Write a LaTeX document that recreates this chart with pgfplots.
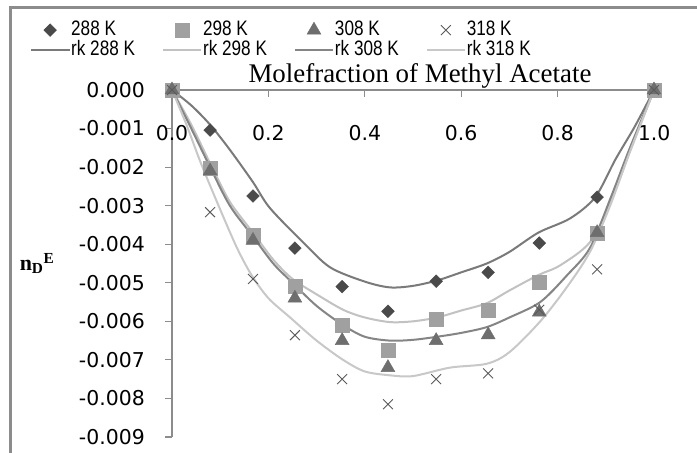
\documentclass[border=0pt]{standalone}
\usepackage{fontspec}
\setmainfont{Liberation Sans}
\newfontfamily\legfont[FakeStretch=0.82]{Liberation Sans}
\newfontfamily\tickfont{DejaVu Sans}
\newfontfamily\seriffont{Liberation Serif}
\usepackage{pgfplots}
\pgfplotsset{compat=1.18}
\definecolor{cA}{HTML}{4A4A4A}
\definecolor{cB}{HTML}{A0A0A0}
\definecolor{cC}{HTML}{6E6E6E}
\definecolor{cD}{HTML}{5A5A5A}
\definecolor{lA}{HTML}{7A7A7A}
\definecolor{lB}{HTML}{C2C2C2}
\definecolor{lC}{HTML}{858585}
\definecolor{lD}{HTML}{C8C8C8}
\definecolor{axisgray}{HTML}{8C8C8C}
\begin{document}
\begin{tikzpicture}[x=1bp,y=1bp]
\useasboundingbox (0,0) rectangle (697,453);
\fill[white] (0,0) rectangle (697,453);
\draw[color=axisgray, line width=3bp] (10,0) -- (10,445);
\draw[color=axisgray, line width=3bp] (8.5,445) -- (697,445);
\begin{axis}[
  at={(172bp,16bp)}, anchor=south west,
  scale only axis, width=482bp, height=347bp,
  xmin=0, xmax=1, ymin=-0.009, ymax=0,
  clip=false,
  scaled y ticks=false, scaled x ticks=false,
  axis x line*=top, axis y line*=left,
  axis line style={draw=axisgray, line width=1.5bp, -},
  xtick={0,0.2,0.4,0.6,0.8,1},
  ytick={-0.009,-0.008,-0.007,-0.006,-0.005,-0.004,-0.003,-0.002,-0.001,0},
  tick style={draw=axisgray, line width=1.2bp},
  major tick length=7bp,
  xtick align=inside, ytick align=outside,
  xticklabel={\pgfmathprintnumber[fixed,fixed zerofill,precision=1,assume math mode=true]{\tick}},
  yticklabel={\pgfmathprintnumber[fixed,fixed zerofill,precision=3,assume math mode=true]{\tick}},
  xticklabel style={font=\tickfont\fontsize{20.5}{24}\selectfont, anchor=center, yshift=-43bp},
  yticklabel style={font=\tickfont\fontsize{20.5}{24}\selectfont, anchor=east, inner sep=0pt, xshift=-20bp},
  xlabel={Molefraction of Methyl Acetate},
  xlabel style={font=\seriffont\fontsize{27}{30}\selectfont, at={(axis description cs:0.5145,1)}, anchor=base, yshift=7bp},
  ylabel={\seriffont\bfseries\fontsize{22}{24}\selectfont n\textsubscript{D}\textsuperscript{E}},
  ylabel style={rotate=-90, at={(axis description cs:-0.28,0.50)}, anchor=center},
  legend columns=4,
  legend cell align=left,
  legend image code/.code={\draw[mark repeat=2,mark phase=2,#1] plot coordinates {(0bp,0bp) (19bp,0bp) (38bp,0bp)};},
  legend style={at={(-0.2946,1.199)}, anchor=north west,
    draw=none, fill=none, inner sep=0pt, row sep=2bp,
    font=\legfont\fontsize{21}{23}\selectfont,
    nodes={inner sep=1bp, text height=13bp, text depth=3bp, font=\legfont\fontsize{21}{23}\selectfont},
    /tikz/every even column/.append style={column sep=26bp}},
]
\addplot[only marks, mark=square*, mark size=4.5bp, mark options={rotate=45, fill=cA, draw=cA}] coordinates {
(0,0) (0.079,-0.00104) (0.168,-0.00275) (0.255,-0.0041) (0.353,-0.0051) (0.448,-0.00574) (0.548,-0.00496) (0.656,-0.00473) (0.762,-0.00397) (0.882,-0.00278) (1,0)};
\addlegendentry{288 K}
\addplot[only marks, mark=square*, mark size=7bp, mark options={fill=cB, draw=cB}] coordinates {
(0,0) (0.079,-0.00203) (0.168,-0.00377) (0.255,-0.0051) (0.353,-0.0061) (0.448,-0.00675) (0.548,-0.00595) (0.656,-0.0057) (0.762,-0.00498) (0.882,-0.00372) (1,0)};
\addlegendentry{298 K}
\addplot[only marks, mark=triangle*, mark size=8bp, mark options={fill=cC, draw=cC}] coordinates {
(0,0) (0.079,-0.0021) (0.168,-0.0039) (0.255,-0.0054) (0.353,-0.0065) (0.448,-0.0072) (0.548,-0.0065) (0.656,-0.00635) (0.762,-0.00576) (0.882,-0.0037) (1,0)};
\addlegendentry{308 K}
\addplot[only marks, mark=x, mark size=7bp, mark options={draw=cD, line width=0.9bp}] coordinates {
(0,0) (0.079,-0.00317) (0.168,-0.0049) (0.255,-0.00636) (0.353,-0.0075) (0.448,-0.00815) (0.548,-0.0075) (0.656,-0.00735) (0.762,-0.0057) (0.882,-0.00465) (1,0)};
\addlegendentry{318 K}
\addplot[lA, line width=2bp, smooth, tension=0.5, no marks] coordinates {
(0,0) (0.04,-0.0004) (0.079,-0.0009) (0.12,-0.00155) (0.168,-0.00239) (0.203,-0.00306) (0.272,-0.00395) (0.328,-0.0046) (0.40,-0.00497) (0.452,-0.00512) (0.50,-0.00508) (0.55,-0.00494) (0.60,-0.00473) (0.653,-0.0045) (0.70,-0.0042) (0.76,-0.0037) (0.826,-0.00333) (0.878,-0.00278) (0.92,-0.0018) (0.96,-0.00095) (1,0)};
\addlegendentry{rk 288 K}
\addplot[lB, line width=2bp, smooth, tension=0.5, no marks] coordinates {
(0,0) (0.04,-0.0009) (0.079,-0.0019) (0.12,-0.0029) (0.168,-0.0037) (0.21,-0.0044) (0.25,-0.0049) (0.30,-0.0053) (0.355,-0.0057) (0.40,-0.0059) (0.452,-0.00602) (0.50,-0.0060) (0.55,-0.0059) (0.60,-0.00572) (0.653,-0.00553) (0.70,-0.0052) (0.76,-0.0048) (0.805,-0.00455) (0.867,-0.00395) (0.91,-0.0029) (0.95,-0.0016) (1,0)};
\addlegendentry{rk 298 K}
\addplot[lC, line width=2bp, smooth, tension=0.5, no marks] coordinates {
(0,0) (0.04,-0.001) (0.079,-0.0020) (0.12,-0.003) (0.168,-0.0038) (0.21,-0.0045) (0.25,-0.0050) (0.30,-0.0056) (0.355,-0.0061) (0.40,-0.0064) (0.452,-0.0065) (0.50,-0.00648) (0.55,-0.0064) (0.60,-0.0063) (0.653,-0.00615) (0.70,-0.0059) (0.764,-0.0055) (0.82,-0.0048) (0.867,-0.0041) (0.91,-0.0028) (0.95,-0.0015) (1,0)};
\addlegendentry{rk 308 K}
\addplot[lD, line width=2bp, smooth, tension=0.5, no marks] coordinates {
(0,0) (0.03,-0.0009) (0.06,-0.0019) (0.10,-0.0031) (0.135,-0.0041) (0.165,-0.0048) (0.20,-0.0054) (0.245,-0.0059) (0.30,-0.0065) (0.355,-0.0070) (0.40,-0.0073) (0.452,-0.0074) (0.50,-0.00742) (0.577,-0.0072) (0.653,-0.0071) (0.70,-0.0068) (0.764,-0.0060) (0.82,-0.0051) (0.867,-0.0042) (0.909,-0.0030) (0.95,-0.0016) (1,0)};
\addlegendentry{rk 318 K}
\end{axis}
\end{tikzpicture}
\end{document}
